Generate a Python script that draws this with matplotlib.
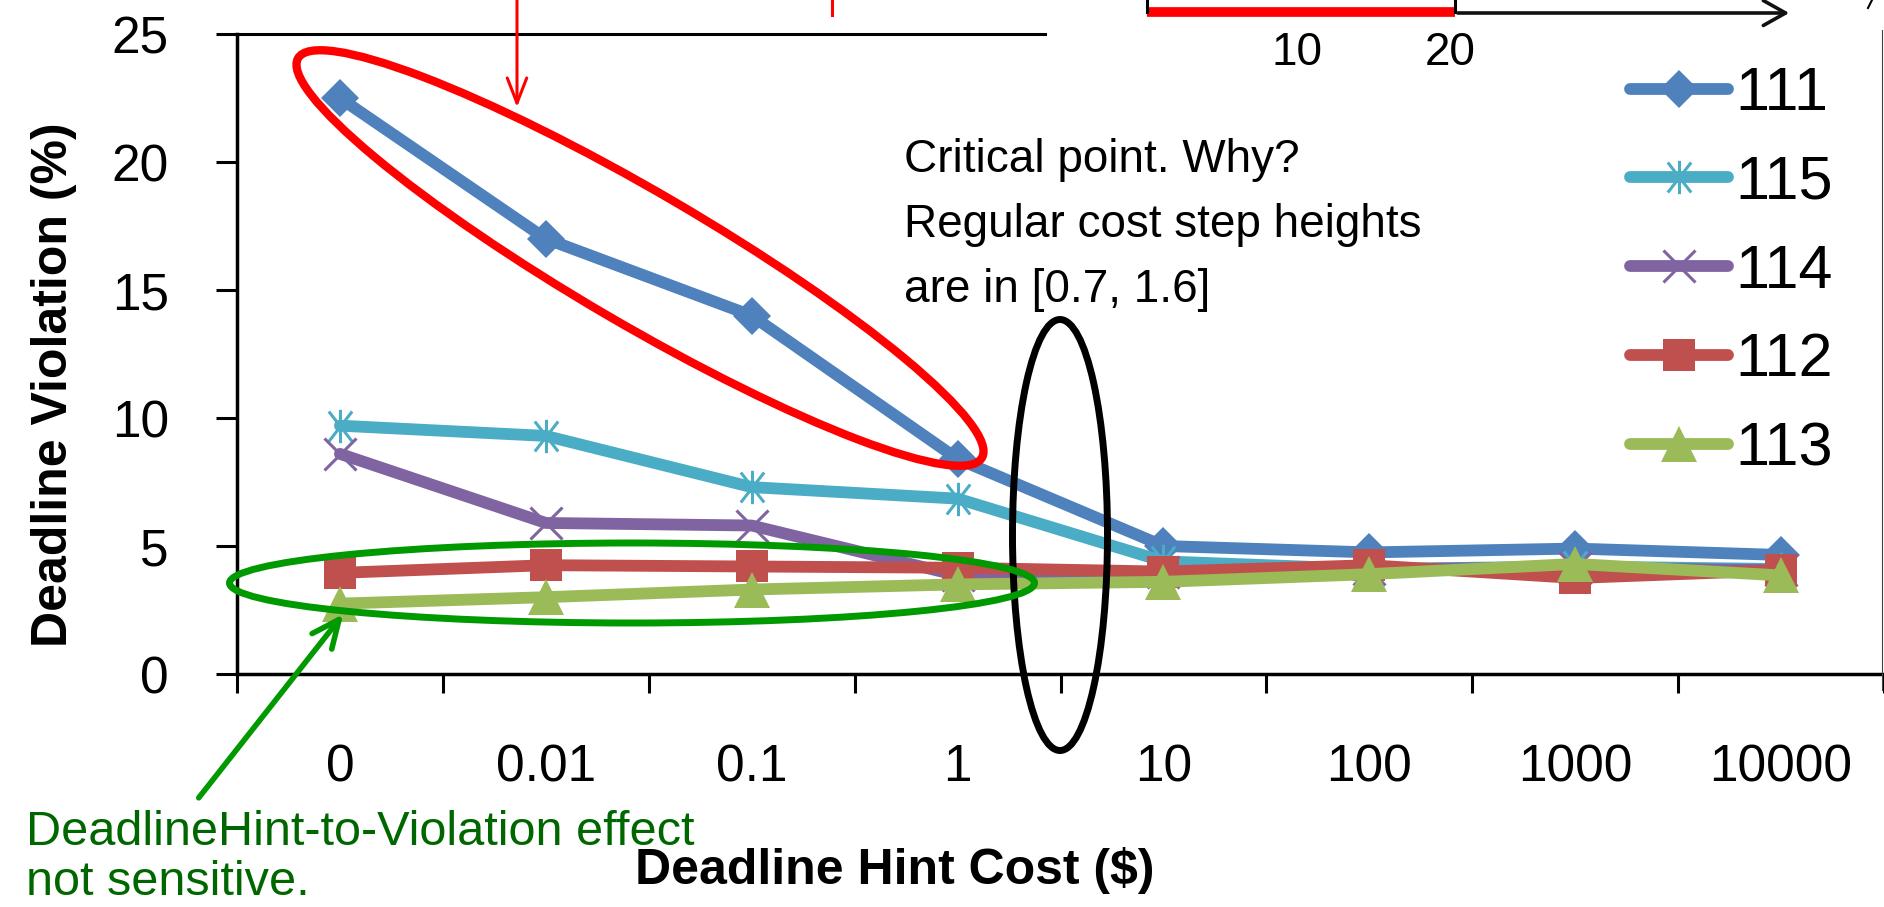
import matplotlib
matplotlib.use('Agg')
import matplotlib.pyplot as plt
from matplotlib.patches import Ellipse, FancyArrowPatch
from matplotlib.path import Path
from matplotlib.lines import Line2D

plt.rcParams['font.family'] = ['Liberation Sans', 'DejaVu Sans']

# Data
cost_labels = ['0', '0.01', '0.1', '1', '10', '100', '1000', '10000']
v111 = [22.5, 17.0, 14.0, 8.4, 5.0, 4.75, 4.9, 4.65]
v115 = [9.7, 9.3, 7.3, 6.85, 4.4, 4.1, 4.2, 4.1]
v114 = [8.6, 5.9, 5.8, 3.85, 4.0, 4.1, 4.15, 4.05]
v112 = [3.95, 4.25, 4.2, 4.15, 4.0, 4.25, 3.75, 4.05]
v113 = [2.75, 3.0, 3.3, 3.5, 3.6, 3.9, 4.3, 3.85]

series_names = ['111', '115', '114', '112', '113']
series_vals = [v111, v115, v114, v112, v113]
colors = ['#4F81BD', '#4BACC6', '#8064A2', '#C0504D', '#9BBB59']

# Excel-style star marker: vertical bar + X
star = Path([(0, -0.5), (0, 0.5), (-0.35, -0.45), (0.35, 0.45), (-0.35, 0.45), (0.35, -0.45)],
            [Path.MOVETO, Path.LINETO, Path.MOVETO, Path.LINETO, Path.MOVETO, Path.LINETO])
markers = ['D', star, 'x', 's', '^']
msizes = [19, 24, 23, 23, 26]
mews = [0, 2.2, 2.2, 0, 0]

W, H = 1884, 907
fig = plt.figure(figsize=(W / 100, H / 100), dpi=100)
ax = fig.add_axes([237 / W, 1 - 674 / H, (W - 237) / W, (674 - 34) / H])

x = list(range(len(cost_labels)))
for i, (name, vals) in enumerate(zip(series_names, series_vals)):
    ax.plot(x, vals, color=colors[i], lw=8.5, marker=markers[i], markersize=msizes[i],
            markeredgewidth=mews[i], markeredgecolor=colors[i], markerfacecolor=colors[i],
            solid_joinstyle='round', solid_capstyle='round', label=name, zorder=3 + i,
            clip_on=False)

ax.set_xlim(-0.5, len(cost_labels) - 0.5)
ax.set_ylim(0, 25)
ax.set_yticks([0, 5, 10, 15, 20, 25])
ax.set_xticks(x)
ax.set_xticklabels(cost_labels)
ax.set_xticks([i - 0.5 for i in range(len(cost_labels) + 1)], minor=True)
ax.tick_params(axis='x', which='major', length=0, pad=50, labelsize=37)
ax.tick_params(axis='x', which='minor', length=14, width=2.2, direction='out')
ax.tick_params(axis='y', length=15, width=2.2, direction='out', pad=34, labelsize=37)

for s in ['top', 'right']:
    ax.spines[s].set_visible(False)
for s in ['left', 'bottom']:
    ax.spines[s].set_linewidth(2.5)
ax.axhline(25, xmin=0, xmax=(1045 - 237) / (W - 237), color='black', lw=2.2, clip_on=False)

ax.set_xlabel('Deadline Hint Cost ($)', fontsize=36, fontweight='bold')
ax.xaxis.set_label_coords((895 - 237) / (W - 237), (674 - 871) / 640)
ax.xaxis.label.set_va('center')
ax.set_ylabel('Deadline Violation (%)', fontsize=36, fontweight='bold')
ax.yaxis.set_label_coords((54 - 237) / (W - 237), (674 - 385) / 640)
ax.yaxis.label.set_va('center')

leg = ax.legend(loc='upper left', bbox_to_anchor=(1630 / W, 1 - 66 / H),
                bbox_transform=fig.transFigure, frameon=False, fontsize=44,
                handlelength=1.6, handletextpad=0.12, labelspacing=0.52,
                borderpad=0, borderaxespad=0)

# ---- annotations (pixel positions, origin top-left) ----
def inch(px, py):
    return (px / 100, (H - py) / 100)

tr = fig.dpi_scale_trans

def fig_line(xs, ys, **kw):
    fig.add_artist(Line2D([v / 100 for v in xs], [(H - v) / 100 for v in ys], transform=tr, **kw))

# red ellipse around the steep drop of 111
fig.add_artist(Ellipse(inch(640, 258), 7.92, 1.32, angle=-30.3, fill=False,
                       edgecolor='#FF0000', lw=6, transform=tr, zorder=10))
# black ellipse at the critical point
fig.add_artist(Ellipse(inch(1060, 535), 0.95, 4.31, angle=0, fill=False,
                       edgecolor='black', lw=5, transform=tr, zorder=10))
# green ellipse around the flat series
fig.add_artist(Ellipse(inch(632, 583), 8.05, 0.8, angle=0, fill=False,
                       edgecolor='#009900', lw=5, transform=tr, zorder=10))

# red arrow from above
fig.add_artist(FancyArrowPatch(
    inch(517, -5), inch(517, 110), arrowstyle='->,head_length=0.9,head_width=0.35',
    color='#FF0000', lw=2.2, mutation_scale=20, transform=tr, zorder=11))
fig_line([832, 832], [0, 15], color='#FF0000', lw=2.2)

# green arrow
fig.add_artist(FancyArrowPatch(
    inch(197, 800), inch(345, 612), arrowstyle='->,head_length=1.0,head_width=0.45',
    color='#009900', lw=4, mutation_scale=20, transform=tr, zorder=11))

# critical point text
for j, t in enumerate(['Critical point. Why?', 'Regular cost step heights', 'are in [0.7, 1.6]']):
    fig.text(904 / W, 1 - (172 + 65 * j) / H, t, fontsize=33, ha='left', va='baseline')

# green note
fig.text(26 / W, 1 - 845 / H, 'DeadlineHint-to-Violation effect', fontsize=35,
         color='#006600', ha='left', va='baseline')
fig.text(26 / W, 1 - 895 / H, 'not sensitive.', fontsize=35,
         color='#006600', ha='left', va='baseline')

# inset scale at top right
fig_line([1147, 1455], [12, 12], color='#FF0000', lw=7, solid_capstyle='butt')
fig_line([1147, 1147], [0, 12], color='black', lw=2.2)
fig_line([1455, 1455], [0, 12], color='black', lw=2.2)
fig.add_artist(FancyArrowPatch(
    inch(1455, 13), inch(1792, 13), arrowstyle='->,head_length=0.8,head_width=0.45',
    color='#111111', lw=2.6, mutation_scale=20, transform=tr, zorder=11))
fig_line([1868, 1872], [8, 0], color='black', lw=1.5)
fig_line([1882, 1882], [30, 690], color='#444444', lw=0.8)
fig.text(1297 / W, 1 - 53 / H, '10', fontsize=33, ha='center', va='center')
fig.text(1450 / W, 1 - 53 / H, '20', fontsize=33, ha='center', va='center')

fig.savefig('out.png', dpi=100)
